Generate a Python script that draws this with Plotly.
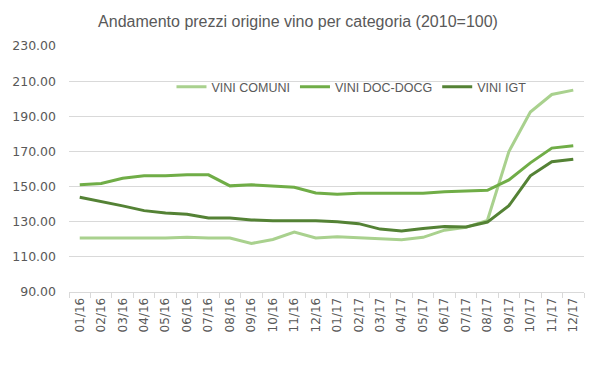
import plotly.graph_objects as go

months = ["01/16","02/16","03/16","04/16","05/16","06/16","07/16","08/16","09/16","10/16","11/16","12/16",
          "01/17","02/17","03/17","04/17","05/17","06/17","07/17","08/17","09/17","10/17","11/17","12/17"]
vini_comuni = [120.7,120.7,120.7,120.7,120.7,121.2,120.7,120.7,117.6,119.9,124.1,120.7,
               121.4,120.9,120.3,119.7,121.1,125.2,126.8,130.8,169.9,192.4,202.4,204.9]
vini_doc = [151.0,151.7,154.7,156.1,156.1,156.7,156.7,150.4,151.0,150.4,149.6,146.4,
            145.6,146.2,146.2,146.2,146.2,147.1,147.3,147.9,153.8,163.5,171.9,173.2]
vini_igt = [143.9,141.6,139.0,136.3,135.0,134.2,132.1,132.1,131.0,130.6,130.6,130.6,
            130.0,128.9,125.8,124.7,126.2,127.3,127.0,129.8,139.1,156.1,164.1,165.6]
y_ticks = [90,110,130,150,170,190,210,230]

names = ["VINI COMUNI", "VINI DOC-DOCG", "VINI IGT"]
colors = ["#A9D18E", "#70AD47", "#548235"]

fig = go.Figure()
for name, vals, c in zip(names, [vini_comuni, vini_doc, vini_igt], colors):
    fig.add_trace(go.Scatter(x=months, y=vals, name=name, mode="lines",
                             line=dict(color=c, width=3)))

font = "Liberation Sans, Arial, sans-serif"
tickfont = "DejaVu Sans, sans-serif"
fig.update_layout(
    width=600, height=378,
    paper_bgcolor="white", plot_bgcolor="white",
    margin=dict(l=65, r=16, t=46, b=86),
    title=dict(text="Andamento prezzi origine vino per categoria (2010=100)",
               x=298/600, xanchor="center", y=1-21/378, yanchor="middle",
               font=dict(family=font, size=16, color="#595959")),
    legend=dict(orientation="h", x=0.199, y=0.833, xanchor="left", yanchor="middle",
                bgcolor="rgba(0,0,0,0)", font=dict(family=font, size=12.5, color="#595959"),
                itemwidth=30, tracegroupgap=0),
    showlegend=True,
)
fig.update_yaxes(range=[90,230], tickvals=y_ticks, tickformat=".2f",
                 showgrid=True, gridcolor="#D9D9D9", gridwidth=1,
                 zeroline=False, showline=False,
                 tickfont=dict(family=tickfont, size=12.5, color="#595959"),
                 ticks="", ticklabelstandoff=12)
fig.update_xaxes(type="category", tickangle=-90, tickson="boundaries", ticks="outside",
                 ticklen=5, tickcolor="#D9D9D9", showline=True, linecolor="#D9D9D9",
                 showgrid=False, range=[-0.5, 23.5],
                 tickfont=dict(family=tickfont, size=12, color="#595959"))
fig.write_html("out.html", config={"displayModeBar": False},
               post_script="document.body.style.margin='0';")
